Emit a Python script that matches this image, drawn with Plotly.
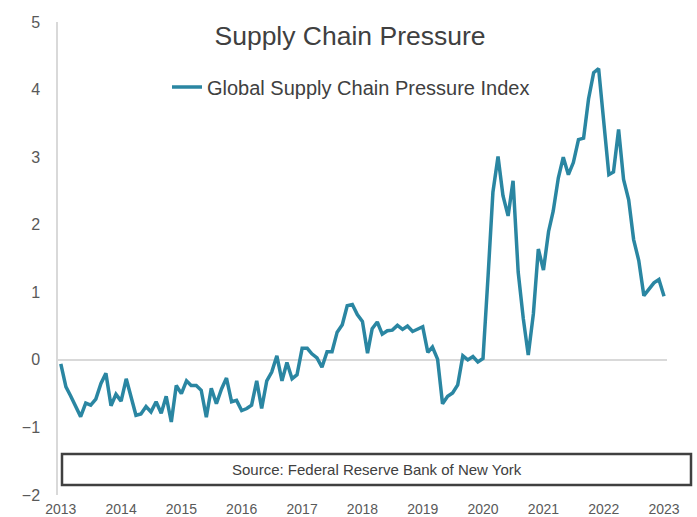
import pandas as pd
import plotly.graph_objects as go

start_month = "2013-01-01"
gscpi = [
    -0.06, -0.40, -0.53, -0.70, -0.84, -0.64, -0.67, -0.58, -0.35, -0.20, -0.68, -0.51,
    -0.61, -0.28, -0.55, -0.82, -0.80, -0.69, -0.77, -0.62, -0.79, -0.54, -0.92, -0.38,
    -0.50, -0.31, -0.38, -0.38, -0.45, -0.85, -0.42, -0.65, -0.43, -0.27, -0.62, -0.60,
    -0.75, -0.72, -0.67, -0.31, -0.72, -0.31, -0.18, 0.06, -0.31, -0.04, -0.28, -0.22,
    0.17, 0.17, 0.09, 0.03, -0.11, 0.12, 0.12, 0.41, 0.52, 0.80, 0.82, 0.67,
    0.57, 0.10, 0.46, 0.56, 0.38, 0.43, 0.44, 0.51, 0.45, 0.50, 0.42, 0.46,
    0.49, 0.11, 0.19, 0.01, -0.65, -0.54, -0.49, -0.37, 0.06, 0.00, 0.05, -0.03,
    0.02, 1.25, 2.48, 3.01, 2.43, 2.13, 2.65, 1.30, 0.61, 0.07, 0.68, 1.64,
    1.33, 1.90, 2.20, 2.69, 3.00, 2.74, 2.92, 3.26, 3.28, 3.86, 4.25, 4.31,
    3.52, 2.74, 2.78, 3.41, 2.67, 2.37, 1.78, 1.47, 0.95, 1.05, 1.14, 1.19,
    0.94,
]
months = pd.date_range(start_month, periods=len(gscpi), freq="MS")
year_ticks = [f"{y}-01-01" for y in range(2013, 2024)]
year_labels = [str(y) for y in range(2013, 2024)]
y_ticks = [-2, -1, 0, 1, 2, 3, 4, 5]

title_text = "Supply Chain Pressure"
series_name = "Global Supply Chain Pressure Index"
source_text = "Source: Federal Reserve Bank of New York"

LINE = "#2A86A2"
FONT = "Liberation Sans, Arial, sans-serif"

fig = go.Figure()
fig.add_trace(go.Scatter(
    x=months, y=gscpi, mode="lines", name=series_name,
    line=dict(color=LINE, width=3.5), showlegend=True,
))

fig.update_layout(
    width=697, height=517,
    margin=dict(l=58, r=30, t=22, b=22, autoexpand=False),
    paper_bgcolor="white", plot_bgcolor="white",
    font=dict(family=FONT, color="#595959"),
    title=dict(text=title_text, x=350 / 697, xanchor="center", xref="container",
               y=1 - 36 / 517, yanchor="middle", yref="container",
               font=dict(size=26.5, color="#404040", family=FONT)),
    showlegend=True,
    legend=dict(orientation="h", x=(167 - 58) / 609, xanchor="left", y=(495 - 87) / 473,
                yanchor="middle",
                font=dict(size=20, color="#404040", family=FONT),
                bgcolor="rgba(0,0,0,0)"),
    xaxis=dict(
        type="date", range=["2012-12-15", "2023-01-19"], automargin=False,
        tickmode="array", tickvals=year_ticks, ticktext=year_labels,
        showgrid=False, zeroline=False, showline=False,
        ticks="outside", ticklen=1, tickcolor="rgba(0,0,0,0)",
        tickfont=dict(size=14, color="#595959"),
    ),
    yaxis=dict(
        range=[-2, 5], tickvals=y_ticks, automargin=False,
        showgrid=False, zeroline=True, zerolinecolor="#D9D9D9", zerolinewidth=2,
        showline=True, linecolor="#D9D9D9", linewidth=1.5,
        ticks="outside", ticklen=13, tickcolor="rgba(0,0,0,0)",
        tickfont=dict(size=16, color="#595959"),
    ),
)

fig.add_shape(type="rect", xref="paper", yref="paper",
              x0=(62 - 58) / 609, x1=(691 - 58) / 609,
              y0=(495 - 485) / 473, y1=(495 - 454) / 473,
              line=dict(color="#404040", width=2.5), fillcolor="white", layer="above")
fig.add_annotation(text=source_text, xref="paper", yref="paper",
                   x=(376.5 - 58) / 609, y=(495 - 469.5) / 473,
                   xanchor="center", yanchor="middle", showarrow=False,
                   font=dict(size=15, color="#404040", family=FONT))

fig.write_html("out.html")
